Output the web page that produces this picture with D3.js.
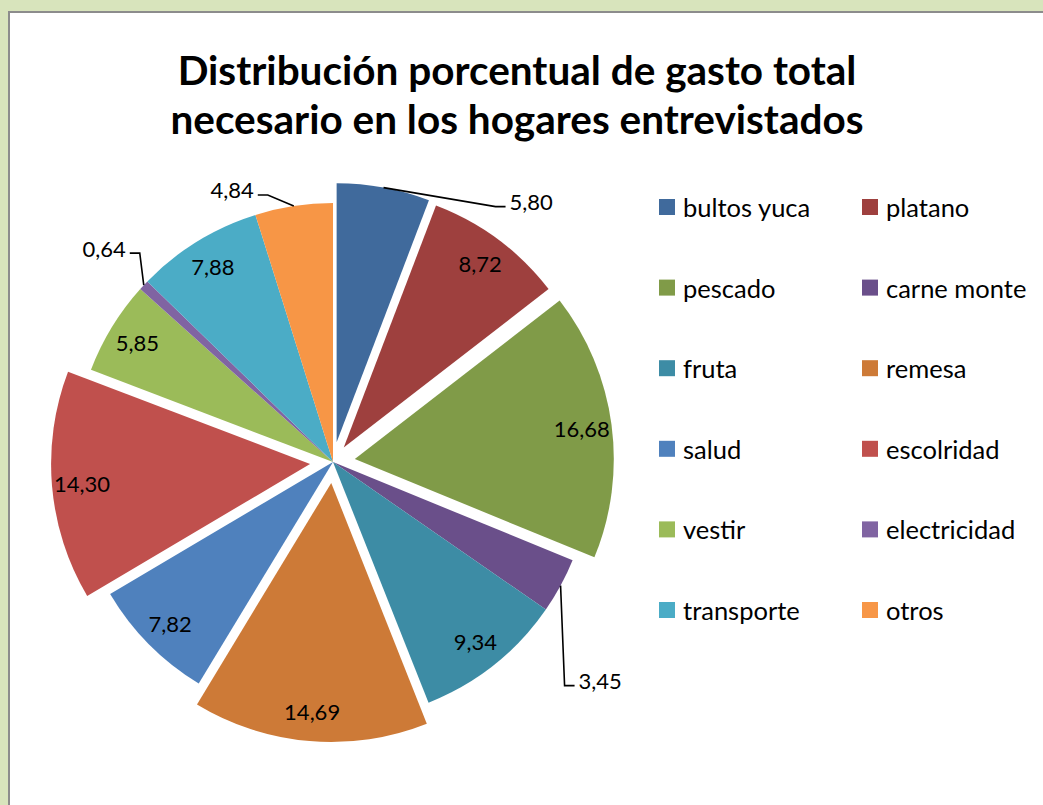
<!DOCTYPE html>
<html>
<head>
<meta charset="utf-8">
<script src="https://cdn.jsdelivr.net/npm/d3@7"></script>
<style>
  body { margin: 0; background: #d8e4bc; }
  svg { display: block; }
  text { font-family: Lato, "Open Sans", sans-serif; fill: #000; }
</style>
</head>
<body>
<svg id="chart" width="1043" height="805"></svg>
<script>
// data
var categories = ["bultos yuca", "platano", "pescado", "carne monte", "fruta", "remesa",
  "salud", "escolridad", "vestir", "electricidad", "transporte", "otros"];
var values = [5.80, 8.72, 16.68, 3.45, 9.34, 14.69, 7.82, 14.30, 5.85, 0.64, 7.88, 4.84];
var titleLines = ["Distribución porcentual de gasto total", "necesario en los hogares entrevistados"];

// look
var colors = ["#406a9c", "#9e403e", "#809b48", "#6a4f8a", "#3d8ca5", "#cd7a37",
  "#4f81bd", "#c0504d", "#9bbb59", "#8064a2", "#4bacc6", "#f79646"];
var explode = [20, 18, 22, 0, 0, 21, 0, 23, 0, 0, 0, 0];
// labels drawn outside with a leader: elbow offset from the arc point, side of text
var outside = {
  "bultos yuca": { dx: 112, dy: 19, side: 1 },
  "carne monte": { dx: 4, dy: 100, side: 1 },
  "electricidad": { dx: -4, dy: -32, side: -1 },
  "otros": { dx: -26, dy: -11, side: -1 }
};

var cx = 333, cy = 462, radius = 259, labelRadius = 229;

var svg = d3.select("#chart");

// chart area
svg.append("rect")
  .attr("x", 9).attr("y", 12)
  .attr("width", 1100).attr("height", 900)
  .attr("fill", "#fff")
  .attr("stroke", "#8c8c8c")
  .attr("stroke-width", 2);

// title
svg.selectAll(".title")
  .data(titleLines)
  .enter().append("text")
  .attr("class", "title")
  .attr("x", 517)
  .attr("y", function (d, i) { return 85 + i * 49; })
  .attr("text-anchor", "middle")
  .style("font-weight", "bold")
  .style("font-size", "40.5px")
  .text(function (d) { return d; });

var pie = d3.pie().sort(null).value(function (d) { return d; });
var arcs = pie(values);
var arc = d3.arc().innerRadius(0).outerRadius(radius);

function midAngle(d) { return (d.startAngle + d.endAngle) / 2; }
function shift(d, i) {
  var a = midAngle(d);
  return [cx + Math.sin(a) * explode[i], cy - Math.cos(a) * explode[i]];
}

var g = svg.append("g");

g.selectAll("path")
  .data(arcs)
  .enter().append("path")
  .attr("transform", function (d, i) {
    var p = shift(d, i);
    return "translate(" + p[0] + "," + p[1] + ")";
  })
  .attr("d", arc)
  .attr("fill", function (d, i) { return colors[i]; });

function fmt(v) { return v.toFixed(2).replace(".", ","); }

// data labels
arcs.forEach(function (d, i) {
  var name = categories[i];
  var p = shift(d, i);
  var a = midAngle(d);
  var o = outside[name];
  if (!o) {
    g.append("text")
      .attr("x", p[0] + Math.sin(a) * labelRadius)
      .attr("y", p[1] - Math.cos(a) * labelRadius)
      .attr("text-anchor", "middle")
      .attr("dominant-baseline", "central")
      .style("font-size", "22px")
      .text(fmt(values[i]));
  } else {
    var x0 = p[0] + Math.sin(a) * radius;
    var y0 = p[1] - Math.cos(a) * radius;
    var x1 = x0 + o.dx, y1 = y0 + o.dy;
    var x2 = x1 + o.side * 10;
    g.append("polyline")
      .attr("points", [[x0, y0], [x1, y1], [x2, y1]].join(" "))
      .attr("fill", "none")
      .attr("stroke", "#000")
      .attr("stroke-width", 1.6);
    g.append("text")
      .attr("x", x2 + o.side * 4)
      .attr("y", y1 - 5)
      .attr("text-anchor", o.side > 0 ? "start" : "end")
      .attr("dominant-baseline", "central")
      .style("font-size", "22px")
      .text(fmt(values[i]));
  }
});

// legend, two columns
var legend = svg.append("g");
var items = legend.selectAll("g")
  .data(categories)
  .enter().append("g")
  .attr("transform", function (d, i) {
    return "translate(" + (659 + (i % 2) * 203) + "," + (207 + Math.floor(i / 2) * 80.6) + ")";
  });
items.append("rect")
  .attr("x", 0).attr("y", -8)
  .attr("width", 16).attr("height", 16)
  .attr("fill", function (d, i) { return colors[i]; });
items.append("text")
  .attr("x", 24)
  .attr("y", 0)
  .attr("dominant-baseline", "central")
  .style("font-size", "25.5px")
  .text(function (d) { return d; });
</script>
</body>
</html>
